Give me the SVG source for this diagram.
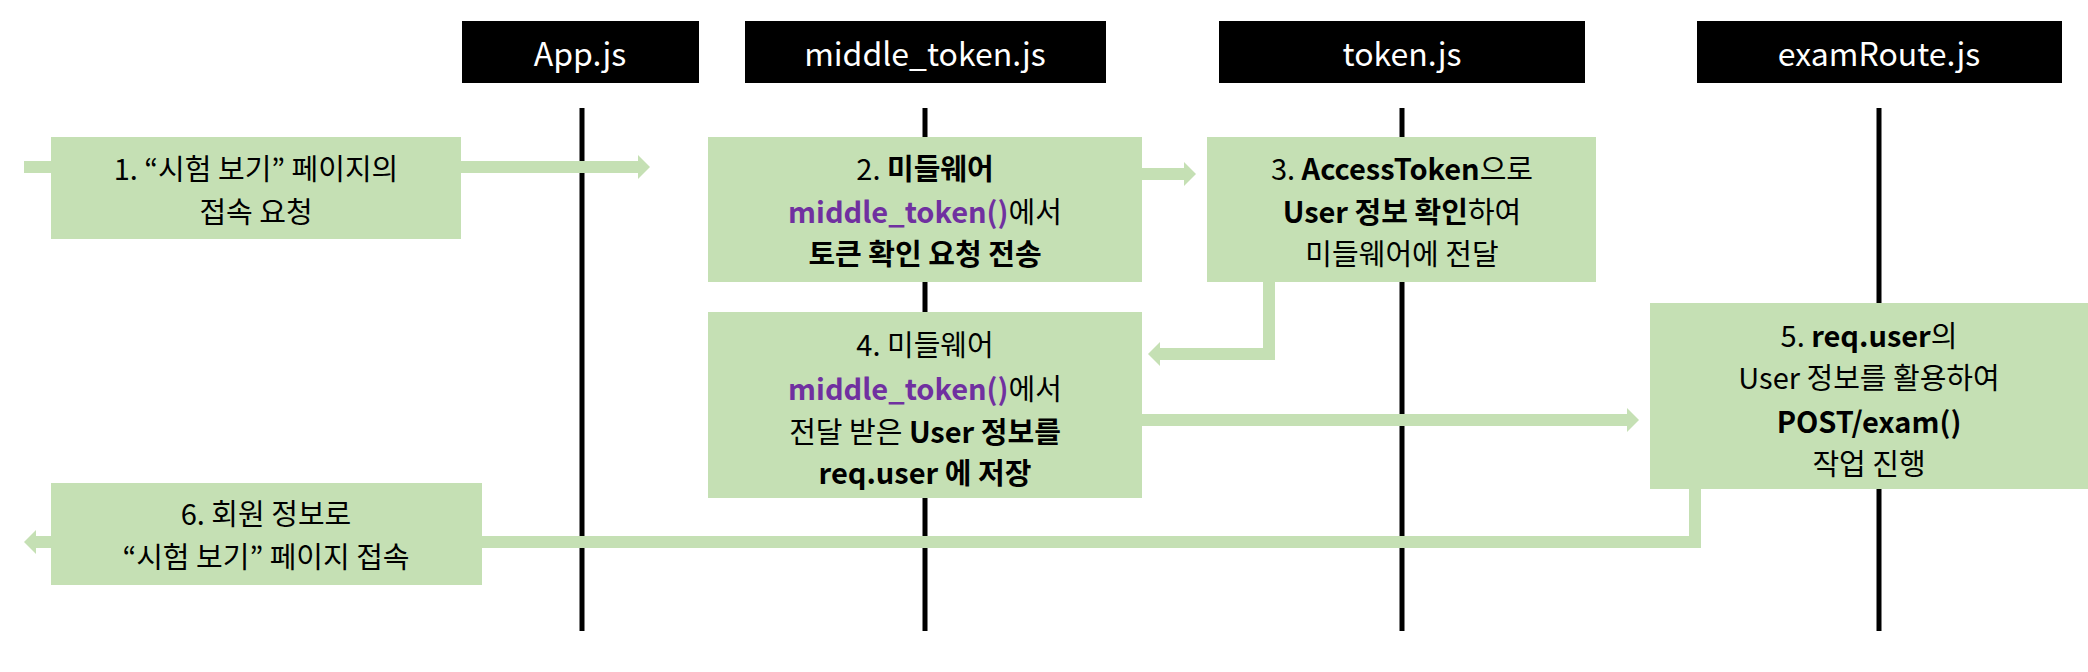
<svg xmlns="http://www.w3.org/2000/svg" width="2088" height="672" viewBox="0 0 2088 672">
<defs>
<style>
.hd{fill:#000}
.hdt{fill:#fff;font-size:32px}
text{font-family:"Malgun Gothic","Noto Sans CJK KR","Noto Sans",sans-serif;dominant-baseline:central;text-anchor:middle}
.bx{fill:#C5E0B4}
.t{font-size:29px;fill:#000}
.b{font-weight:bold}
.p{fill:#7030A0;font-weight:bold}
.life{stroke:#000;stroke-width:5}
.con{fill:none;stroke:#C5E0B4;stroke-width:12}
.ah{fill:#C5E0B4}
</style>
</defs>
<g id="lifelines">
<line class="life" x1="582" y1="108" x2="582" y2="631"/>
<line class="life" x1="925" y1="108" x2="925" y2="631"/>
<line class="life" x1="1402" y1="108" x2="1402" y2="631"/>
<line class="life" x1="1879" y1="108" x2="1879" y2="631"/>
</g>
<g id="h-app"><rect class="hd" x="462" y="21" width="237" height="62"/><text class="hdt" x="580" y="52">App.js</text></g>
<g id="h-middle"><rect class="hd" x="745" y="21" width="361" height="62"/><text class="hdt" x="925" y="52">middle_token.js</text></g>
<g id="h-token"><rect class="hd" x="1219" y="21" width="366" height="62"/><text class="hdt" x="1402" y="52">token.js</text></g>
<g id="h-exam"><rect class="hd" x="1697" y="21" width="365" height="62"/><text class="hdt" x="1879" y="52">examRoute.js</text></g>
<g id="connectors">
<path class="con" d="M24 167H640"/><polygon class="ah" points="638,155 650,167 638,179"/>
<path class="con" d="M1142 174H1186"/><polygon class="ah" points="1184,162 1196,174 1184,186"/>
<path class="con" d="M1269 282V354H1158"/><polygon class="ah" points="1160,342 1148,354 1160,366"/>
<path class="con" d="M1142 420H1629"/><polygon class="ah" points="1627,408 1639,420 1627,432"/>
<path class="con" d="M1695 489V542H34"/><polygon class="ah" points="36,530 24,542 36,554"/>
</g>
<g id="n1"><rect class="bx" x="51" y="137" width="410" height="102"/>
<text class="t" x="256" y="167">1. “시험 보기” 페이지의</text>
<text class="t" x="256" y="210">접속 요청</text></g>
<g id="n2"><rect class="bx" x="708" y="137" width="434" height="145"/>
<text class="t" x="925" y="167">2. <tspan class="b">미들웨어</tspan></text>
<text class="t" x="925" y="210"><tspan class="p">middle_token()</tspan>에서</text>
<text class="t b" x="925" y="252">토큰 확인 요청 전송</text></g>
<g id="n3"><rect class="bx" x="1207" y="137" width="389" height="145"/>
<text class="t" x="1402" y="167">3. <tspan class="b">AccessToken</tspan>으로</text>
<text class="t" x="1402" y="210"><tspan class="b">User 정보 확인</tspan>하여</text>
<text class="t" x="1402" y="252">미들웨어에 전달</text></g>
<g id="n4"><rect class="bx" x="708" y="312" width="434" height="186"/>
<text class="t" x="925" y="343">4. 미들웨어</text>
<text class="t" x="925" y="387"><tspan class="p">middle_token()</tspan>에서</text>
<text class="t" x="925" y="430">전달 받은 <tspan class="b">User 정보를</tspan></text>
<text class="t b" x="925" y="471">req.user 에 저장</text></g>
<g id="n5"><rect class="bx" x="1650" y="303" width="438" height="186"/>
<text class="t" x="1869" y="334">5. <tspan class="b">req.user</tspan>의</text>
<text class="t" x="1869" y="376">User 정보를 활용하여</text>
<text class="t b" x="1869" y="420">POST/exam()</text>
<text class="t" x="1869" y="462">작업 진행</text></g>
<g id="n6"><rect class="bx" x="51" y="483" width="431" height="102"/>
<text class="t" x="266" y="512">6. 회원 정보로</text>
<text class="t" x="266" y="555">“시험 보기” 페이지 접속</text></g>
</svg>
